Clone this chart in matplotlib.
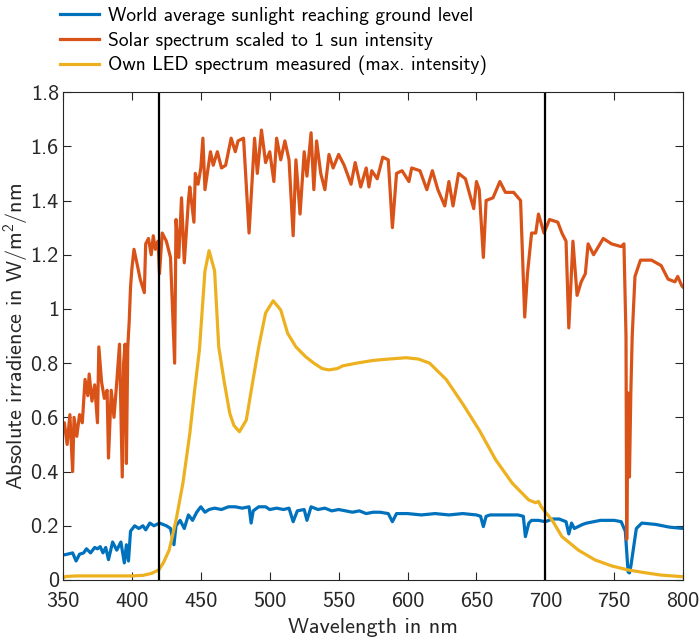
import matplotlib
matplotlib.use("Agg")
import matplotlib.pyplot as plt
from matplotlib.ticker import FuncFormatter

plt.rcParams['font.family'] = ['cmss10', 'DejaVu Sans']
plt.rcParams['mathtext.fontset'] = 'custom'
plt.rcParams['mathtext.rm'] = 'cmss10'
plt.rcParams['axes.unicode_minus'] = False

# solar spectrum scaled to 1 sun
sun_wl = [350, 351, 353, 355, 357, 358, 360, 362, 364, 366, 368, 369, 371, 373,
          375, 376, 378, 380, 382, 383, 385, 387, 389, 391, 393, 394, 395, 396,
          397, 398, 399, 400, 401.5, 404, 406, 409, 410, 412, 414, 415.5, 417,
          419, 420, 422, 425, 428, 431, 432, 434, 436, 438, 441, 442, 445, 446,
          448, 450, 451.5, 453, 457, 459, 462, 465, 468, 472, 475, 477, 481, 485,
          489, 491, 494, 497, 500, 503, 505, 508, 511, 514, 517, 519, 522, 525,
          527, 530, 532, 534, 537, 540, 543, 546, 550, 554, 559, 562, 566, 570,
          572, 574, 578, 582, 586, 589, 592, 596, 601, 603, 609, 614, 618, 622,
          627, 630, 633, 637, 642, 648, 650, 652, 655, 657, 662, 667, 671, 677,
          682, 685, 687, 690, 693, 695, 699, 703, 709, 712, 715, 717, 720, 723,
          726, 729, 731, 735, 742, 748, 755, 757, 758.5, 759, 760, 761, 762, 763,
          765, 769, 777, 784, 789, 794, 796, 799, 800]
sun_val = [0.55, 0.58, 0.50, 0.61, 0.40, 0.60, 0.53, 0.61, 0.58, 0.74, 0.68,
           0.76, 0.66, 0.72, 0.58, 0.86, 0.73, 0.67, 0.70, 0.45, 0.70, 0.60,
           0.73, 0.87, 0.38, 0.80, 0.87, 0.43, 0.86, 0.95, 1.08, 1.15, 1.22,
           1.16, 1.11, 1.06, 1.24, 1.26, 1.20, 1.27, 1.22, 1.25, 1.13, 1.28,
           1.25, 1.19, 0.80, 1.33, 1.19, 1.41, 1.17, 1.40, 1.45, 1.32, 1.50,
           1.46, 1.52, 1.63, 1.44, 1.58, 1.53, 1.58, 1.52, 1.53, 1.63, 1.58,
           1.62, 1.63, 1.28, 1.63, 1.50, 1.66, 1.54, 1.58, 1.47, 1.63, 1.55,
           1.62, 1.55, 1.27, 1.55, 1.35, 1.58, 1.49, 1.65, 1.44, 1.62, 1.50,
           1.44, 1.57, 1.52, 1.57, 1.53, 1.46, 1.54, 1.45, 1.52, 1.45, 1.51,
           1.48, 1.56, 1.55, 1.30, 1.50, 1.51, 1.47, 1.52, 1.51, 1.44, 1.51,
           1.44, 1.38, 1.47, 1.38, 1.50, 1.48, 1.37, 1.47, 1.44, 1.19, 1.40,
           1.41, 1.47, 1.43, 1.43, 1.40, 0.97, 1.13, 1.28, 1.28, 1.35, 1.28,
           1.33, 1.32, 1.28, 1.25, 0.93, 1.25, 1.05, 1.10, 1.13, 1.24, 1.20,
           1.26, 1.24, 1.23, 1.24, 0.90, 0.15, 0.69, 0.38, 0.69, 0.90, 1.12,
           1.18, 1.18, 1.16, 1.11, 1.10, 1.12, 1.085, 1.08]

# world average sunlight at ground level
gnd_wl = [350, 353, 357, 359.5, 362, 365, 367, 370, 373, 375, 377, 379, 381,
          383, 386, 389, 392, 394.5, 396, 397.5, 399, 402, 405, 408, 410, 413,
          416, 420, 425, 428, 430.5, 432, 435, 438, 441, 444, 447, 450, 453,
          456, 460, 465, 470, 475, 480, 485, 486.5, 488, 492, 497, 500, 505,
          510, 514, 517, 520, 525, 527, 530, 535, 540, 545, 550, 555, 560, 565,
          570, 575, 580, 586, 589, 592, 600, 610, 620, 630, 640, 650, 653, 655,
          657, 660, 670, 680, 684, 685.5, 688, 690, 695, 700, 705, 710, 715,
          717, 719, 721, 723, 727, 730, 740, 750, 755, 758, 760, 761, 762, 764,
          766, 770, 780, 790, 800]
gnd_val = [0.092, 0.095, 0.10, 0.07, 0.095, 0.10, 0.115, 0.10, 0.12, 0.115,
           0.123, 0.10, 0.12, 0.075, 0.14, 0.11, 0.14, 0.063, 0.13, 0.07, 0.18,
           0.20, 0.19, 0.20, 0.185, 0.21, 0.20, 0.21, 0.20, 0.19, 0.13, 0.20,
           0.22, 0.19, 0.24, 0.22, 0.25, 0.27, 0.25, 0.26, 0.265, 0.26, 0.27,
           0.27, 0.265, 0.27, 0.21, 0.255, 0.27, 0.27, 0.26, 0.265, 0.26, 0.265,
           0.215, 0.255, 0.26, 0.22, 0.27, 0.26, 0.265, 0.255, 0.26, 0.255,
           0.25, 0.255, 0.245, 0.25, 0.25, 0.245, 0.215, 0.245, 0.245, 0.24,
           0.245, 0.24, 0.245, 0.24, 0.235, 0.197, 0.235, 0.24, 0.24, 0.24,
           0.235, 0.16, 0.21, 0.22, 0.22, 0.215, 0.225, 0.225, 0.215, 0.17,
           0.21, 0.19, 0.195, 0.205, 0.21, 0.22, 0.22, 0.215, 0.18, 0.03, 0.026,
           0.05, 0.12, 0.19, 0.21, 0.205, 0.195, 0.19]

# own LED spectrum (max. intensity)
led_wl = [350, 352, 360, 380, 400, 408, 414, 419.5, 423, 427, 432, 437, 442,
          445.5, 449, 453, 456, 460, 463, 467, 471, 474, 478, 483, 487.5, 492,
          497, 502.5, 508, 513, 519, 526, 532, 538, 543, 549, 553, 563, 575,
          586, 599, 608, 616, 628, 640, 652, 664, 676, 688, 693, 695, 697, 700,
          705, 712, 724, 736, 748, 760, 772, 784, 800]
led_val = [0.007, 0.013, 0.015, 0.015, 0.015, 0.017, 0.024, 0.037, 0.065, 0.11,
           0.22, 0.357, 0.54, 0.70, 0.85, 1.14, 1.215, 1.14, 0.86, 0.73, 0.615,
           0.57, 0.547, 0.59, 0.727, 0.86, 0.985, 1.03, 0.996, 0.91, 0.86,
           0.824, 0.80, 0.78, 0.775, 0.78, 0.79, 0.80, 0.81, 0.815, 0.82, 0.815,
           0.80, 0.74, 0.65, 0.553, 0.443, 0.357, 0.295, 0.285, 0.29, 0.27,
           0.25, 0.22, 0.16, 0.11, 0.074, 0.052, 0.037, 0.027, 0.018, 0.012]

range_lines = [420, 700]

fig = plt.figure(figsize=(7.0, 6.44), dpi=100)
ax = fig.add_axes([0.09, 0.0994, 0.886, 0.7576])

ax.plot(gnd_wl, gnd_val, color='#0072BD', lw=2.3,
        label='World average sunlight reaching ground level')
ax.plot(sun_wl, sun_val, color='#D95319', lw=2.3,
        label='Solar spectrum scaled to 1 sun intensity')
ax.plot(led_wl, led_val, color='#EDB120', lw=2.3,
        label='Own LED spectrum measured (max. intensity)')
for xl in range_lines:
    ax.axvline(xl, color='black', lw=1.6)

ax.set_xlim(350, 800)
ax.set_ylim(0, 1.8)
ax.set_xticks(range(350, 801, 50))
ax.set_yticks([i * 0.2 for i in range(10)])
ax.yaxis.set_major_formatter(FuncFormatter(lambda v, p: '%g' % round(v, 1)))
ax.tick_params(direction='in', top=True, right=True, length=6, width=0.8,
               colors='0.15', labelsize=16)
ax.tick_params(axis='x', pad=9)
ax.tick_params(axis='y', pad=3)
for s in ax.spines.values():
    s.set_color('0.15')
    s.set_linewidth(0.8)

ax.set_xlabel('Wavelength in nm', fontsize=16, color='0.15', labelpad=5)
ax.set_ylabel(r'Absolute irradience in W/m$^2$/nm', fontsize=16, color='0.15',
              labelpad=0)

fig.legend(loc='upper left', bbox_to_anchor=(0.08, 0.995),
           bbox_transform=fig.transFigure, frameon=False,
           fontsize=14, handlelength=2.0, handletextpad=0.45,
           labelspacing=0.33, borderaxespad=0.1, borderpad=0.1)

fig.savefig('out.png', dpi=100)
